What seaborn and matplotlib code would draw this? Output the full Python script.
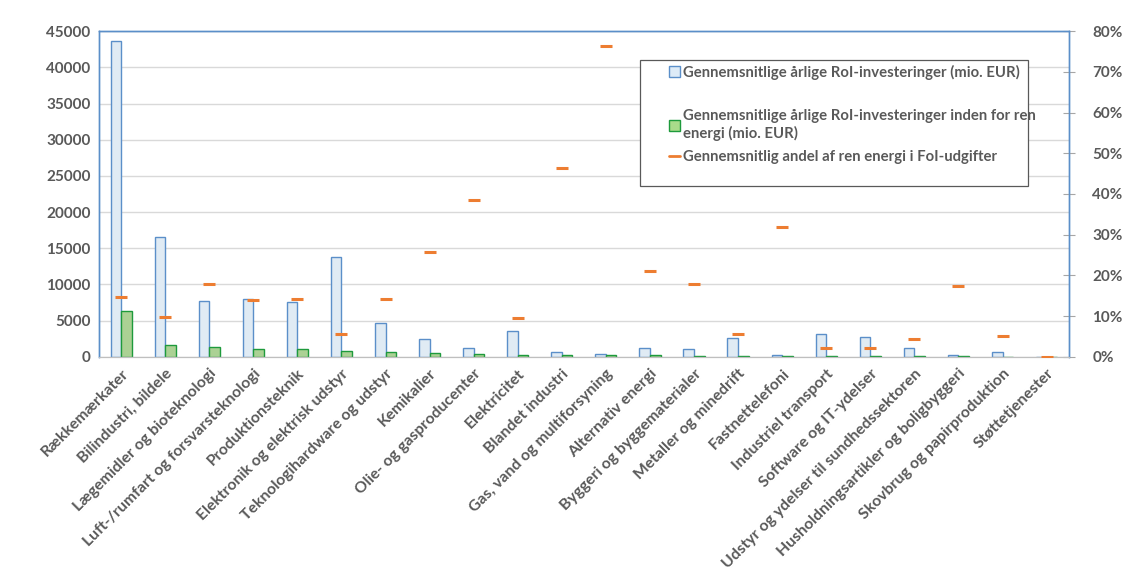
import numpy as np
import pandas as pd
import seaborn as sns
import matplotlib.pyplot as plt
from matplotlib.patches import Patch, Rectangle
from matplotlib.lines import Line2D

categories = [
    "Rækkemærkater", "Bilindustri, bildele", "Lægemidler og bioteknologi",
    "Luft-/rumfart og forsvarsteknologi", "Produktionsteknik",
    "Elektronik og elektrisk udstyr", "Teknologihardware og udstyr",
    "Kemikalier", "Olie- og gasproducenter", "Elektricitet", "Blandet industri",
    "Gas, vand og multiforsyning", "Alternativ energi",
    "Byggeri og byggematerialer", "Metaller og minedrift", "Fastnettelefoni",
    "Industriel transport", "Software og IT-ydelser",
    "Udstyr og ydelser til sundhedssektoren",
    "Husholdningsartikler og boligbyggeri", "Skovbrug og papirproduktion",
    "Støttetjenester",
]
roi_total = [43700, 16500, 7700, 8000, 7550, 13750, 4650, 2450, 1200, 3550, 650,
             370, 1200, 1050, 2600, 250, 3150, 2700, 1200, 250, 650, 0]
roi_clean = [6300, 1600, 1350, 1050, 1050, 800, 650, 500, 370, 250, 250,
             250, 250, 100, 100, 80, 80, 60, 60, 60, 40, 0]
clean_share = [14.8, 9.9, 17.9, 14.0, 14.2, 5.5, 14.2, 25.8, 38.5, 9.6, 46.5,
               76.4, 21.2, 17.9, 5.5, 32.0, 2.3, 2.3, 4.5, 17.5, 5.2, 0.0]

lab_total = "Gennemsnitlige årlige RoI-investeringer (mio. EUR)"
lab_clean = "Gennemsnitlige årlige RoI-investeringer inden for ren\nenergi (mio. EUR)"
lab_share = "Gennemsnitlig andel af ren energi i FoI-udgifter"

df = pd.DataFrame({
    "sektor": categories * 2,
    "værdi": roi_total + roi_clean,
    "serie": ["total"] * len(categories) + ["clean"] * len(categories),
})

sns.set_style("white")
plt.rcParams["font.family"] = ["Lato", "DejaVu Sans"]
plt.rcParams["font.weight"] = "bold"

txt = "#595959"
blue_face, blue_edge = "#DDEBF7", "#5B8FC9"
green_face, green_edge = "#A9DB8A", "#1E9A3C"
orange = "#ED7D31"
frame = "#5B8FC9"

fig = plt.figure(figsize=(11.32, 5.71), dpi=100)
ax = fig.add_axes([0.0875, 0.375, 0.8565, 0.5705])

sns.barplot(data=df, x="sektor", y="værdi", hue="serie", order=categories,
            hue_order=["total", "clean"],
            palette={"total": blue_face, "clean": green_face},
            width=0.48, ax=ax, legend=False, zorder=2)
n = len(categories)
for i, p in enumerate(ax.patches[:2 * n]):
    p.set_edgecolor(blue_edge if i < n else green_edge)
    p.set_linewidth(1.0)

ax.set_ylim(0, 45000)
ax.set_yticks(np.arange(0, 45001, 5000))
ax.set_xlim(-0.5, n - 0.5)
ax.yaxis.grid(True, color="#D9D9D9", linewidth=1, zorder=0)
ax.set_axisbelow(True)
ax.set_xlabel("")
ax.set_ylabel("")
ax.tick_params(axis="y", length=0, labelsize=11, labelcolor=txt, pad=6)
ax.tick_params(axis="x", length=0, labelsize=11.3, labelcolor=txt, pad=7)
ax.set_xticks(range(n))
ax.set_xticklabels(categories, rotation=45, ha="right", rotation_mode="anchor")

ax2 = ax.twinx()
sns.scatterplot(x=np.arange(n), y=clean_share, marker="_", s=70,
                color=orange, linewidth=2.2, ax=ax2, zorder=3)
ax2.set_ylim(0, 80)
ax2.set_yticks(np.arange(0, 81, 10))
ax2.set_yticklabels([f"{v}%" for v in range(0, 81, 10)])
ax2.tick_params(axis="y", direction="inout", length=8, color="#A6A6A6",
                labelsize=11, labelcolor=txt, pad=13)

for a in (ax, ax2):
    for side in ("left", "right", "top"):
        a.spines[side].set_color(frame)
        a.spines[side].set_linewidth(1.0)
    a.spines["bottom"].set_color("#BFBFBF")

# legend box drawn by hand, entries placed in two groups like the original
ax2.add_patch(Rectangle((0.5577, 0.5245), 0.40, 0.3865, transform=ax2.transAxes,
                        facecolor="white", edgecolor="#595959", linewidth=0.9,
                        zorder=5))
h_total = Patch(facecolor=blue_face, edgecolor=blue_edge, label=lab_total)
h_clean = Patch(facecolor=green_face, edgecolor=green_edge, label=lab_clean)
h_share = Line2D([], [], color=orange, linewidth=2, label=lab_share)
common = dict(frameon=False, fontsize=10.7, labelcolor=txt, handlelength=0.75,
              handleheight=0.75, handletextpad=0.2, borderpad=0,
              borderaxespad=0)
leg1 = ax2.legend(handles=[h_total], loc="center left",
                  bbox_to_anchor=(0.5876, 0.874), **common)
leg1.set_zorder(6)
ax2.add_artist(leg1)
leg2 = ax2.legend(handles=[h_clean, h_share], loc="upper left",
                  bbox_to_anchor=(0.5876, 0.760), labelspacing=0.65, **common)
leg2.set_zorder(6)

fig.savefig("out.png", dpi=100)
